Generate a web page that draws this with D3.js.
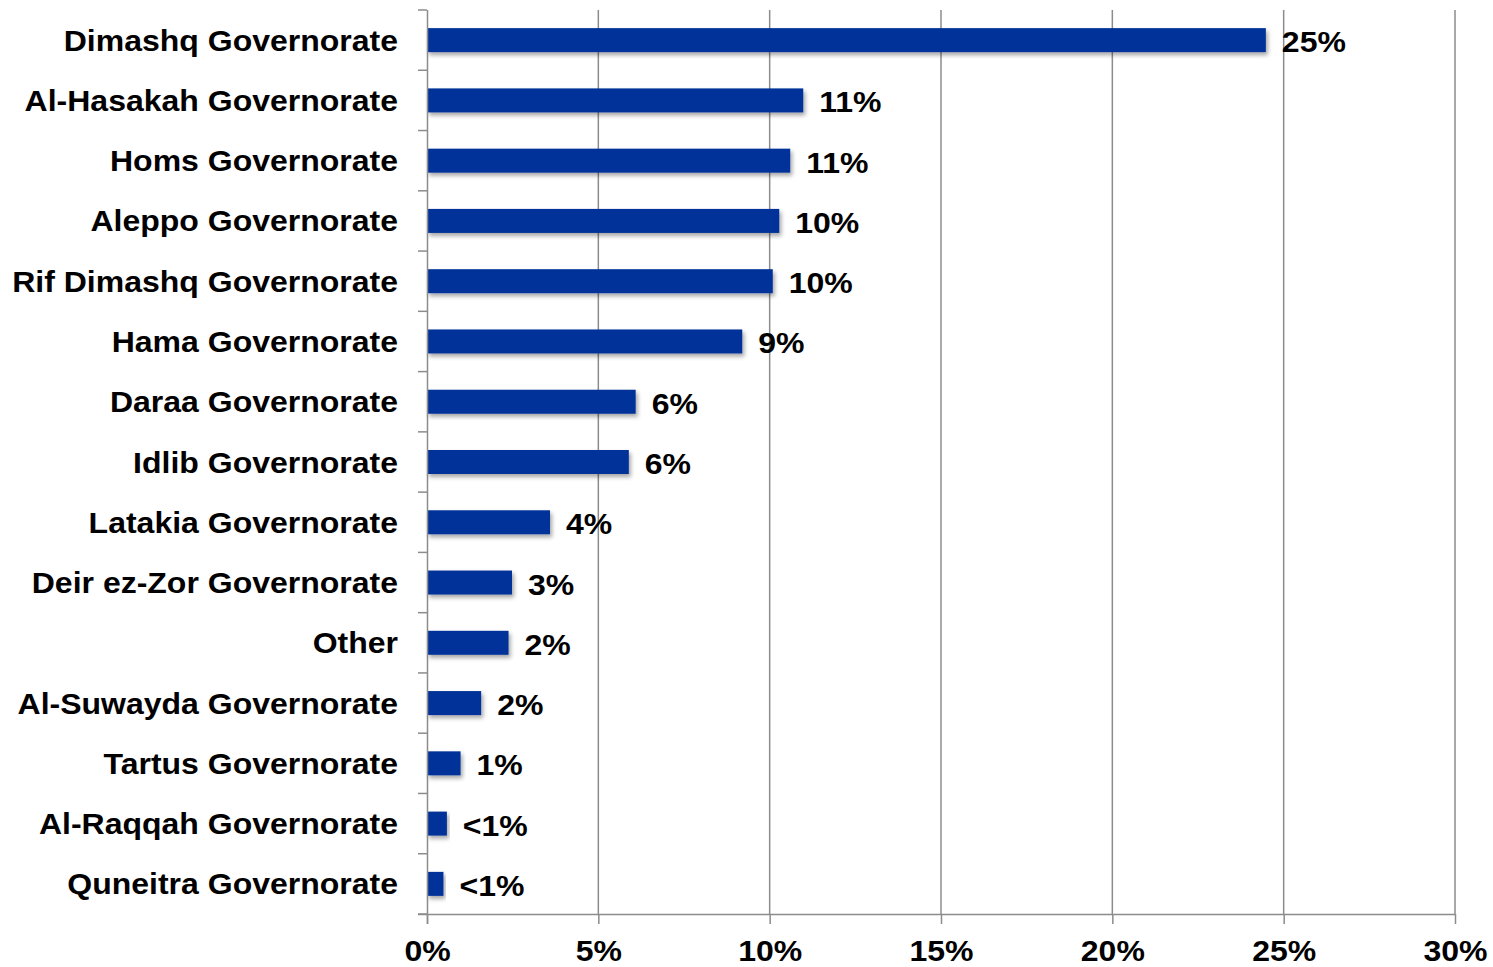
<!DOCTYPE html>
<html>
<head>
  <script src="https://cdn.jsdelivr.net/npm/d3@7"></script>
  <style>
    html, body { margin: 0; background: #fff; }
    svg { font-family: Arial, "Liberation Sans", sans-serif; font-weight: bold; }
  </style>
</head>
<body>
<svg id="chart" width="1493" height="967"></svg>
<script>
  var categories = ["Dimashq Governorate", "Al-Hasakah Governorate", "Homs Governorate",
    "Aleppo Governorate", "Rif Dimashq Governorate", "Hama Governorate", "Daraa Governorate",
    "Idlib Governorate", "Latakia Governorate", "Deir ez-Zor Governorate", "Other",
    "Al-Suwayda Governorate", "Tartus Governorate", "Al-Raqqah Governorate", "Quneitra Governorate"];
  var values = [24.48, 10.98, 10.6, 10.28, 10.09, 9.2, 6.09, 5.89, 3.59, 2.48, 2.38, 1.58, 0.98, 0.58, 0.48];
  var valueLabels = ["25%", "11%", "11%", "10%", "10%", "9%", "6%", "6%", "4%", "3%", "2%", "2%", "1%", "<1%", "<1%"];
  var xTicks = [0, 5, 10, 15, 20, 25, 30];

  var margin = {top: 10, right: 38, bottom: 53, left: 427},
      width = 1493 - margin.left - margin.right,
      height = 967 - margin.top - margin.bottom;

  var fontSize = "29.5px",
      stretch = "scale(1.085,1)";

  var svg = d3.select("#chart");

  var defs = svg.append("defs");
  var filter = defs.append("filter").attr("id", "shadow")
      .attr("x", "-5%").attr("y", "-30%").attr("width", "120%").attr("height", "180%");
  filter.append("feDropShadow")
      .attr("dx", 2).attr("dy", 3).attr("stdDeviation", 2)
      .attr("flood-color", "#000").attr("flood-opacity", 0.35);

  var g = svg.append("g").attr("transform", "translate(" + margin.left + "," + margin.top + ")");

  var x = d3.scaleLinear().domain([0, 30]).range([0, width]);
  var y = d3.scaleBand().domain(categories).range([0, height]);

  // vertical gridlines
  g.selectAll(".grid")
    .data(xTicks.slice(1))
    .enter().append("line")
      .attr("x1", function(d) { return x(d); })
      .attr("x2", function(d) { return x(d); })
      .attr("y1", 0)
      .attr("y2", height)
      .attr("stroke", "#8c8c8c")
      .attr("stroke-width", 1.5);

  // bars
  g.selectAll(".bar")
    .data(values)
    .enter().append("rect")
      .attr("x", x(0))
      .attr("y", function(d, i) { return y(categories[i]) + y.bandwidth() / 2 - 12; })
      .attr("width", function(d) { return x(d) - x(0); })
      .attr("height", 24)
      .attr("fill", "#003399")
      .attr("filter", "url(#shadow)");

  // value labels
  g.selectAll(".val")
    .data(values)
    .enter().append("text")
      .attr("transform", function(d, i) {
        return "translate(" + (x(d) + 16) + "," + (y(categories[i]) + y.bandwidth() / 2 + 12) + ") " + stretch;
      })
      .attr("font-size", fontSize)
      .attr("fill", "#000")
      .text(function(d, i) { return valueLabels[i]; });

  // y axis
  var yAxis = g.append("g")
      .call(d3.axisLeft(y).tickValues([]).tickSizeOuter(0));
  yAxis.select(".domain").attr("stroke", "#8c8c8c").attr("stroke-width", 1.5)
      .attr("d", "M0.5,0V" + (height + 10));
  var bounds = categories.map(function(c) { return y(c); }).concat([height]);
  g.selectAll(".ytick")
    .data(bounds)
    .enter().append("line")
      .attr("x1", -9).attr("x2", 0)
      .attr("y1", function(d) { return d; }).attr("y2", function(d) { return d; })
      .attr("stroke", "#8c8c8c").attr("stroke-width", 1.5);

  g.selectAll(".cat")
    .data(categories)
    .enter().append("text")
      .attr("transform", function(d) {
        return "translate(-29," + (y(d) + y.bandwidth() / 2 + 10.5) + ") " + stretch;
      })
      .attr("text-anchor", "end")
      .attr("font-size", fontSize)
      .attr("fill", "#000")
      .text(function(d) { return d; });

  // x axis
  var xAxis = g.append("g")
      .attr("transform", "translate(0," + height + ")")
      .call(d3.axisBottom(x).tickValues(xTicks).tickSize(10).tickSizeOuter(0)
        .tickFormat(function(d) { return d + "%"; }));
  xAxis.select(".domain").attr("stroke", "#8c8c8c").attr("stroke-width", 1.5)
      .attr("d", "M-9,0.5H" + width);
  xAxis.selectAll(".tick line").attr("stroke", "#8c8c8c").attr("stroke-width", 1.5);
  xAxis.selectAll(".tick text")
      .attr("font-family", "Arial, 'Liberation Sans', sans-serif")
      .attr("font-weight", "bold")
      .attr("font-size", fontSize)
      .attr("fill", "#000")
      .attr("y", 0)
      .attr("dy", 0)
      .attr("transform", "translate(0,46.5) " + stretch);
</script>
</body>
</html>
